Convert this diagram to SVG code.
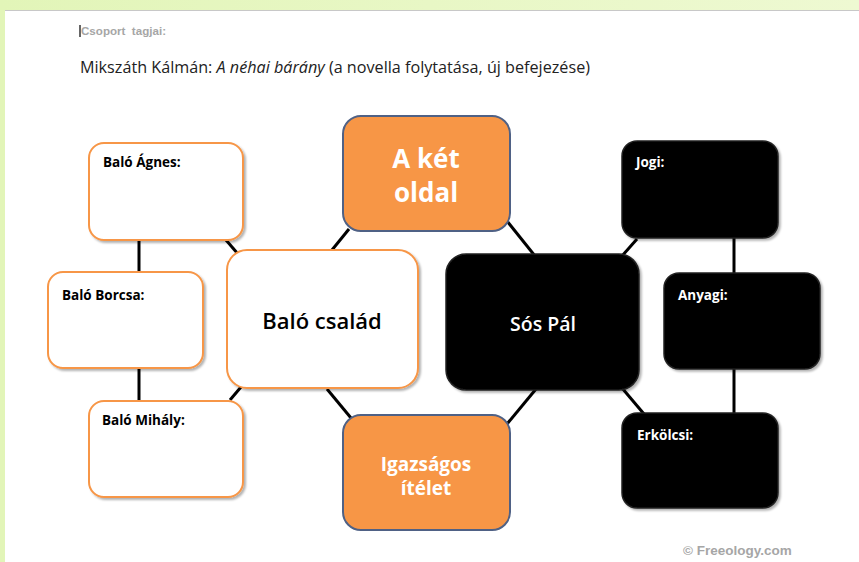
<svg xmlns="http://www.w3.org/2000/svg" width="859" height="562" viewBox="0 0 859 562">
<defs>
<linearGradient id="band" x1="0" y1="0" x2="1" y2="0">
<stop offset="0" stop-color="#e2f5b8"/>
<stop offset="1" stop-color="#eef9d2"/>
</linearGradient>
<filter id="sh" x="-10%" y="-10%" width="130%" height="130%">
<feDropShadow dx="2" dy="2" stdDeviation="1.2" flood-color="#000" flood-opacity="0.3"/>
</filter>
</defs>
<style>
.wbox{fill:#fff;stroke:#f79646;stroke-width:2;filter:url(#sh)}
.obox{fill:#f79646;stroke:#4f6185;stroke-width:2}
.bbox{fill:#000;stroke:#222;stroke-width:1.5;filter:url(#sh)}
.lbl{font-family:"Open Sans","Noto Sans",sans-serif;font-weight:bold;font-size:13.5px}
.conn line{stroke:#000;stroke-width:3}
</style>
<rect width="859" height="562" fill="url(#band)"/>
<rect x="5" y="10" width="854" height="552" fill="#fff"/>
<line x1="5" y1="10.5" x2="859" y2="10.5" stroke="#c8c8c8" stroke-width="1"/>
<line x1="80" y1="25" x2="80" y2="37" stroke="#333" stroke-width="1.5"/>
<text x="81" y="35" font-family="Liberation Sans, Arial, sans-serif" font-weight="bold" font-size="10.5" fill="#a6a6a6" textLength="85" lengthAdjust="spacingAndGlyphs" xml:space="preserve">Csoport  tagjai:</text>
<text x="80" y="73" font-family="Open Sans, Noto Sans, sans-serif" font-size="15.5" fill="#222" textLength="510" lengthAdjust="spacingAndGlyphs">Mikszáth Kálmán: <tspan font-style="italic">A néhai bárány</tspan> (a novella folytatása, új befejezése)</text>
<g class="conn">
<line x1="139" y1="240" x2="139" y2="273"/>
<line x1="139" y1="368" x2="139" y2="402"/>
<line x1="226" y1="240" x2="238" y2="254"/>
<line x1="230" y1="400" x2="241" y2="387"/>
<line x1="332" y1="250" x2="349" y2="229"/>
<line x1="327" y1="389" x2="351" y2="418"/>
<line x1="507" y1="221" x2="535" y2="256"/>
<line x1="622" y1="256" x2="637" y2="239"/>
<line x1="536" y1="389" x2="507" y2="424"/>
<line x1="622" y1="388" x2="644" y2="414"/>
<line x1="734" y1="238" x2="734" y2="274"/>
<line x1="734" y1="368" x2="734" y2="414"/>
</g>
<g id="balo-agnes"><rect class="wbox" x="89" y="143" width="154" height="97" rx="15"/><text class="lbl" x="103" y="167">Baló Ágnes:</text></g>
<g id="balo-borcsa"><rect class="wbox" x="48" y="272" width="155" height="96" rx="15"/><text class="lbl" x="62" y="300">Baló Borcsa:</text></g>
<g id="balo-mihaly"><rect class="wbox" x="89" y="401" width="154" height="96" rx="15"/><text class="lbl" x="102" y="425">Baló Mihály:</text></g>
<g id="balo-csalad"><rect class="wbox" x="227" y="250" width="191" height="138" rx="20"/><text x="322" y="329" text-anchor="middle" font-family="Open Sans, Noto Sans, sans-serif" font-weight="600" font-size="22" fill="#000">Baló család</text></g>
<g id="a-ket-oldal"><rect class="obox" x="343" y="116" width="167" height="115" rx="18"/><text x="426" y="168" text-anchor="middle" font-family="Open Sans, Noto Sans, sans-serif" font-weight="bold" font-size="26" fill="#fff">A két</text><text x="426" y="202" text-anchor="middle" font-family="Open Sans, Noto Sans, sans-serif" font-weight="bold" font-size="26" fill="#fff">oldal</text></g>
<g id="igazsagos-itelet"><rect class="obox" x="343" y="415" width="167" height="115" rx="18"/><text x="426" y="471" text-anchor="middle" font-family="Open Sans, Noto Sans, sans-serif" font-weight="bold" font-size="19" fill="#fff">Igazságos</text><text x="426" y="495" text-anchor="middle" font-family="Open Sans, Noto Sans, sans-serif" font-weight="bold" font-size="19" fill="#fff">ítélet</text></g>
<g id="sos-pal"><rect class="bbox" x="446" y="254" width="193" height="136" rx="20"/><text x="543" y="331" text-anchor="middle" font-family="Open Sans, Noto Sans, sans-serif" font-weight="600" font-size="19.5" fill="#fff">Sós Pál</text></g>
<g id="jogi"><rect class="bbox" x="622" y="141" width="156" height="97" rx="15"/><text class="lbl" x="636" y="167" fill="#fff">Jogi:</text></g>
<g id="anyagi"><rect class="bbox" x="664" y="273" width="156" height="96" rx="15"/><text class="lbl" x="678" y="300" fill="#fff">Anyagi:</text></g>
<g id="erkolcsi"><rect class="bbox" x="622" y="413" width="156" height="95" rx="15"/><text class="lbl" x="637" y="440" fill="#fff">Erkölcsi:</text></g>
<text x="683" y="555" font-family="Liberation Sans, Arial, sans-serif" font-weight="bold" font-size="13.5" fill="#a6a6a6">© Freeology.com</text>
</svg>
